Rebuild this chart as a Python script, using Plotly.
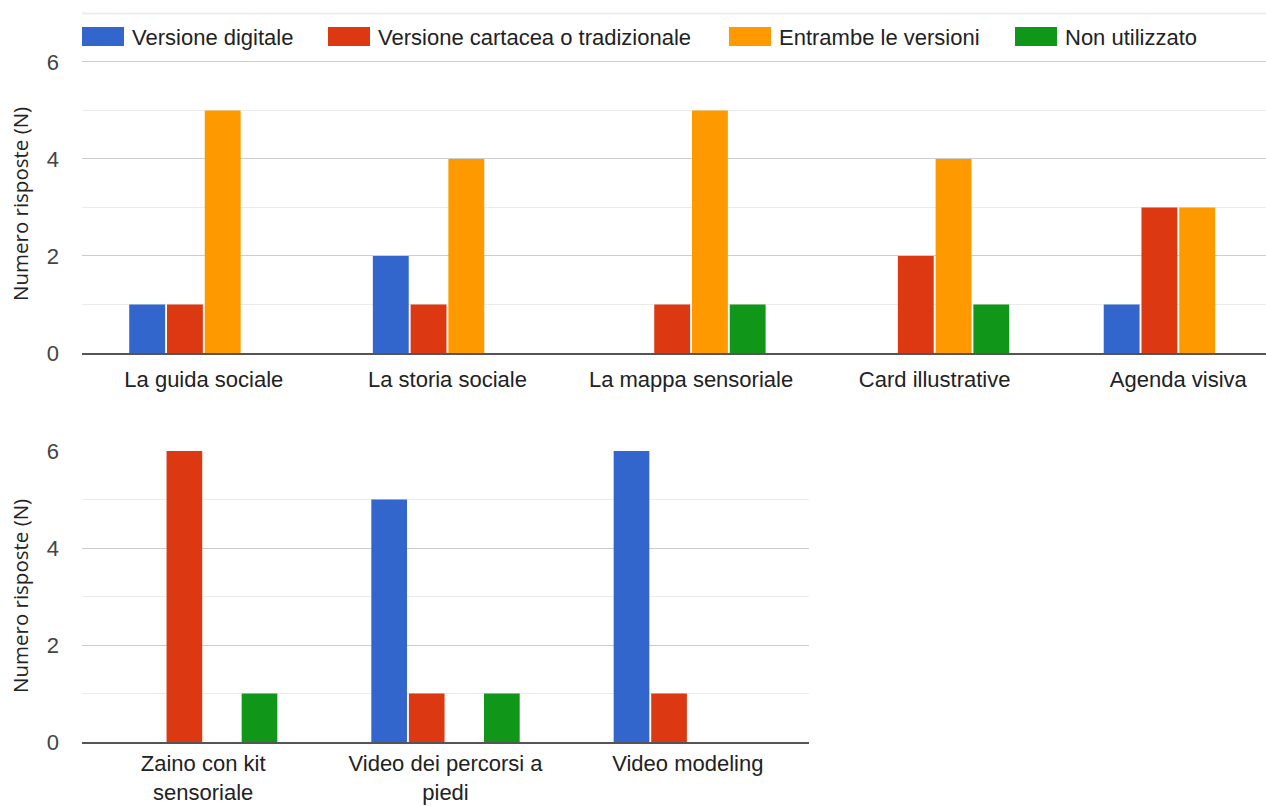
import plotly.graph_objects as go

# Response counts per tool, split by the version that was used
series_names = ["Versione digitale", "Versione cartacea o tradizionale",
                "Entrambe le versioni", "Non utilizzato"]
series_colors = ["#3366cc", "#dc3912", "#ff9900", "#109618"]

top_categories = ["La guida sociale", "La storia sociale", "La mappa sensoriale",
                  "Card illustrative", "Agenda visiva"]
top_digitale = [1, 2, 0, 0, 1]
top_cartacea = [1, 1, 1, 2, 3]
top_entrambe = [5, 4, 5, 4, 3]
top_non_usato = [0, 0, 1, 1, 0]

bottom_categories = ["Zaino con kit<br>sensoriale", "Video dei percorsi a<br>piedi",
                     "Video modeling"]
bottom_digitale = [0, 5, 6]
bottom_cartacea = [6, 1, 1]
bottom_entrambe = [0, 0, 0]
bottom_non_usato = [1, 1, 0]

y_title = "Numero risposte (N)"
y_ticks = [0, 2, 4, 6]

W, H = 1266, 806


def px_x(p):
    return p / W


def px_y(p):
    return 1 - p / H


fig = go.Figure()

top_series = [top_digitale, top_cartacea, top_entrambe, top_non_usato]
bottom_series = [bottom_digitale, bottom_cartacea, bottom_entrambe, bottom_non_usato]

for name, color, vals in zip(series_names, series_colors, top_series):
    fig.add_trace(go.Bar(x=top_categories, y=vals, name=name, marker_color=color,
                         marker_line_width=0, xaxis="x", yaxis="y", showlegend=False))
for name, color, vals in zip(series_names, series_colors, bottom_series):
    fig.add_trace(go.Bar(x=bottom_categories, y=vals, name=name, marker_color=color,
                         marker_line_width=0, xaxis="x2", yaxis="y2", showlegend=False))

text_family = "Arial, Liberation Sans, sans-serif"
tick_font = dict(family=text_family, size=22, color="#444444")

common_x = dict(type="category", showgrid=False, showline=True, linecolor="#555555",
                linewidth=2, ticks="", tickfont=dict(tick_font, color="#222222"),
                ticklabelstandoff=6, automargin=False, fixedrange=True)
common_y = dict(tickvals=y_ticks, showgrid=True, gridcolor="#cccccc", gridwidth=1,
                zeroline=False, showline=False, ticks="", tickfont=tick_font,
                ticklabelstandoff=22, automargin=False,
                minor=dict(dtick=1, showgrid=True, gridcolor="#ebebeb", gridwidth=1))

fig.update_layout(
    width=W, height=H,
    margin=dict(l=0, r=0, t=0, b=0),
    paper_bgcolor="white", plot_bgcolor="white",
    barmode="group", bargap=0.38, bargroupgap=0.05,
    xaxis=dict(common_x, domain=[px_x(82), 1], range=[-0.5, 4.36], anchor="y"),
    yaxis=dict(common_y, domain=[px_y(353), px_y(12)], range=[0, 7.03], anchor="x"),
    xaxis2=dict(common_x, domain=[px_x(82), px_x(809)], range=[-0.5, 2.5], anchor="y2",
                ticklabelstandoff=1),
    yaxis2=dict(common_y, domain=[px_y(742), px_y(451)], range=[0, 6], anchor="x2"),
)

# Topmost light gridline of the upper panel, behind the legend row
fig.add_shape(type="line", xref="x domain", yref="y", x0=0, x1=1, y0=7, y1=7,
              line=dict(color="#dddddd", width=1.5), layer="below")

# Axis titles, centred on the labelled 0-6 span of each panel
for yc in (204, 596):
    fig.add_annotation(text=y_title, textangle=-90, x=px_x(20), y=px_y(yc),
                       xref="paper", yref="paper", showarrow=False,
                       xanchor="center", yanchor="middle",
                       font=dict(family="Open Sans, sans-serif", size=20.5, color="#222222"))

# Legend row across the top panel
legend_x = [82, 328, 729, 1015]
for name, color, lx in zip(series_names, series_colors, legend_x):
    fig.add_shape(type="rect", xref="paper", yref="paper",
                  x0=px_x(lx), x1=px_x(lx + 42), y0=px_y(46), y1=px_y(27),
                  fillcolor=color, line_width=0)
    fig.add_annotation(text=name, x=px_x(lx + 48), y=px_y(37), xref="paper", yref="paper",
                       showarrow=False, xanchor="left", yanchor="middle",
                       font=dict(family=text_family, size=22, color="#222222"))

fig.write_html("out.html")
